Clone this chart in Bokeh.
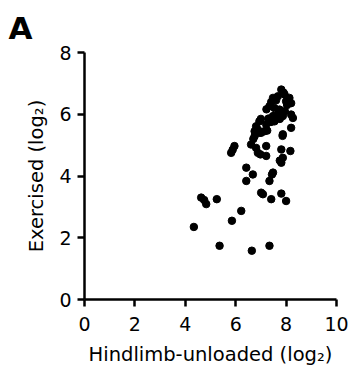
from bokeh.plotting import figure
from bokeh.models import Range1d, FixedTicker
from bokeh.embed import file_html
from bokeh.resources import INLINE

# Hindlimb-unloaded (log2)
hindlimb = [
    4.34, 5.36, 6.64, 7.34, 5.85, 6.22, 4.63, 4.75, 4.83, 5.25,
    7.01, 7.08, 7.41, 7.81, 8.00,
    6.42, 6.42, 6.68, 7.34, 7.48, 7.44, 5.82, 5.95, 5.88, 6.61,
    6.81, 6.88, 6.98, 7.21, 7.21, 7.81, 8.17, 7.87, 7.81, 7.75,
    6.75, 7.01, 7.87, 7.86, 8.20, 6.94, 6.81, 6.75, 6.94, 7.14,
    7.21, 7.34, 7.54, 7.74, 7.67, 7.48, 7.87, 7.54, 8.20, 8.27,
    7.81, 7.48, 7.67, 7.94, 8.13, 8.20, 8.00, 7.60, 7.90, 7.00,
    7.30, 7.40, 6.70, 6.88, 7.25, 7.22, 7.41, 8.04, 7.95, 7.75,
]
# Exercised (log2)
exercised = [
    2.35, 1.74, 1.58, 1.74, 2.55, 2.87, 3.30, 3.22, 3.09, 3.25,
    3.46, 3.41, 3.25, 3.43, 3.19,
    3.84, 4.27, 4.05, 3.84, 4.11, 4.05, 4.75, 4.97, 4.85, 5.02,
    4.91, 4.75, 4.70, 4.97, 4.65, 4.86, 4.81, 4.59, 4.43, 4.50,
    5.29, 5.40, 5.35, 5.30, 5.56, 5.77, 5.61, 5.45, 5.40, 5.45,
    5.67, 6.26, 6.20, 6.15, 5.99, 5.94, 5.94, 5.77, 5.99, 5.88,
    6.80, 6.53, 6.58, 6.64, 6.53, 6.36, 6.42, 6.45, 6.70, 5.85,
    5.86, 5.75, 5.20, 5.50, 5.47, 6.16, 6.40, 6.30, 6.10, 5.85,
]
x_ticks = [0, 2, 4, 6, 8, 10]
y_ticks = [0, 2, 4, 6, 8]

FONT = "DejaVu Sans"

p = figure(width=350, height=374, output_backend="svg", toolbar_location=None,
           x_range=Range1d(0, 10), y_range=Range1d(0, 8),
           min_border_left=84, min_border_right=14, min_border_top=51,
           min_border_bottom=75, title="A")
p.outline_line_color = None
p.xgrid.visible = False
p.ygrid.visible = False
p.background_fill_color = "white"
p.border_fill_color = "white"

p.title.text_font = FONT
p.title.text_font_size = "31px"
p.title.text_font_style = "bold"
p.title.text_color = "black"
p.title.align = "left"
p.title.offset = -76
p.title.standoff = 14

p.scatter(hindlimb, exercised, size=7.5, color="black")

for ax, ticks in ((p.xaxis[0], x_ticks), (p.yaxis[0], y_ticks)):
    ax.ticker = FixedTicker(ticks=ticks)
    ax.minor_tick_line_color = None
    ax.major_tick_in = 0
    ax.major_tick_out = 7
    ax.axis_line_width = 2.5
    ax.major_tick_line_width = 2.5
    ax.axis_line_color = "black"
    ax.major_tick_line_color = "black"
    ax.major_label_text_font = FONT
    ax.major_label_text_font_size = "19px"
    ax.major_label_text_color = "black"
    ax.axis_label_text_font = FONT
    ax.axis_label_text_font_size = "19.5px"
    ax.axis_label_text_font_style = "normal"
    ax.axis_label_text_color = "black"

p.xaxis.axis_label = "Hindlimb-unloaded (log₂)"
p.yaxis.axis_label = "Exercised (log₂)"
p.xaxis.major_label_standoff = 10
p.yaxis.major_label_standoff = 6
p.xaxis.axis_label_standoff = 9
p.yaxis.axis_label_standoff = 8

open("out.html", "w").write(file_html(p, INLINE))
